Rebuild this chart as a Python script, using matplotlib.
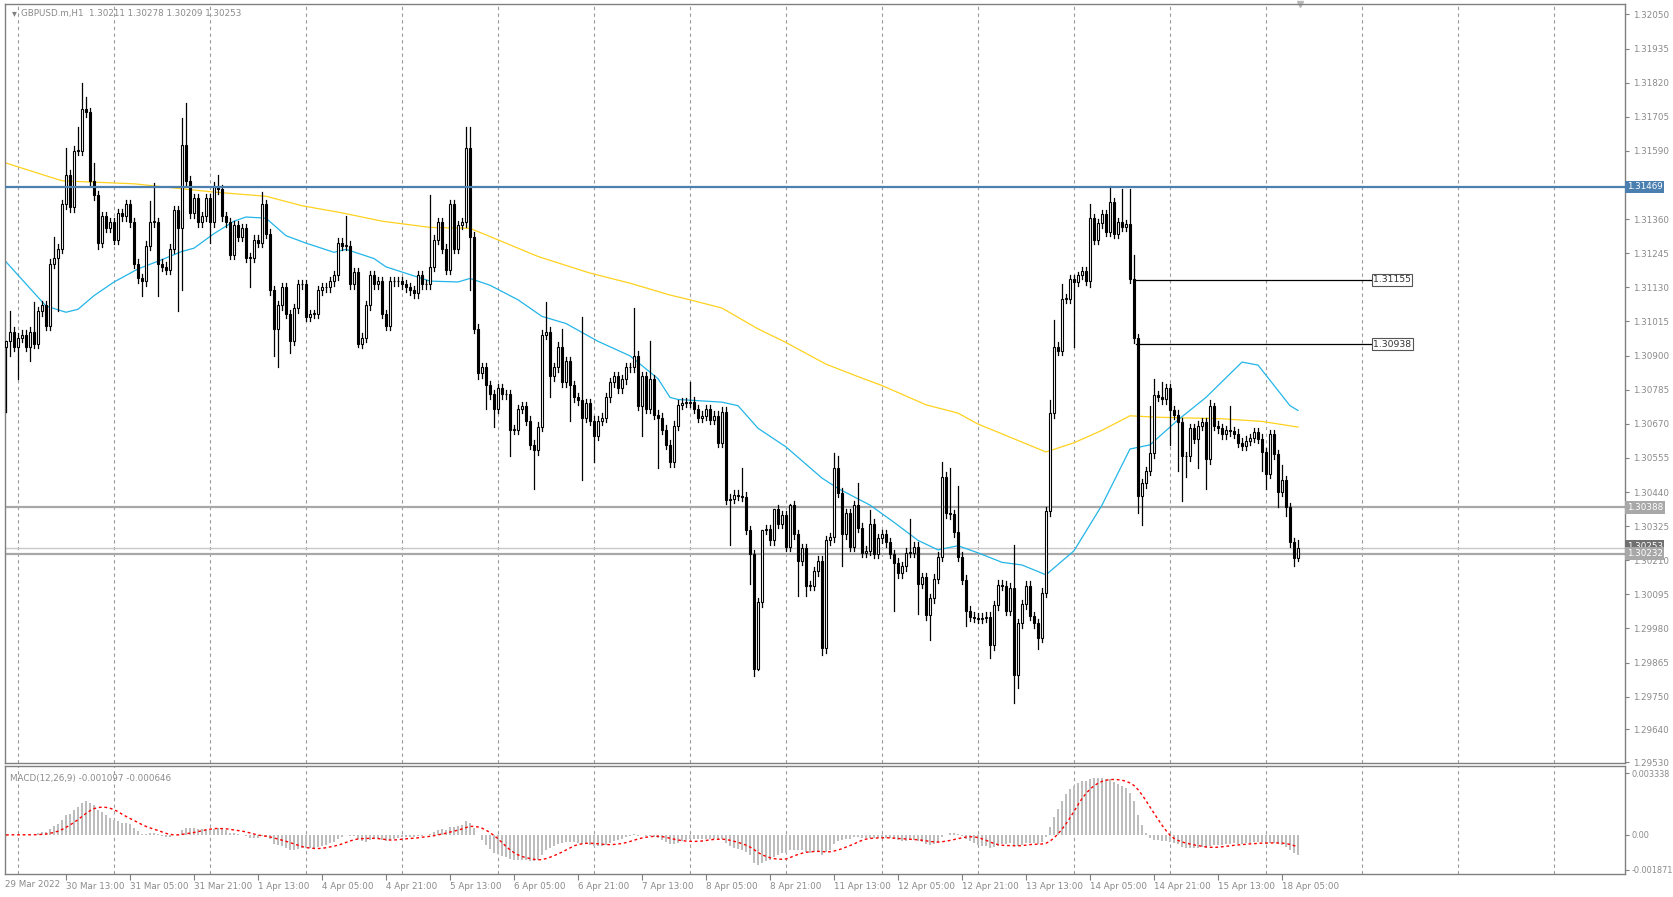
import numpy as np
import matplotlib
matplotlib.use("Agg")
import matplotlib.pyplot as plt
from matplotlib.patches import Rectangle

# ---------------- data ----------------
closes = [
 1.3095,1.3098,1.3093,1.3096,1.3097,1.3093,1.3098,1.3094,1.3105,1.3107,1.3100,1.3121,1.3123,1.3126,1.3141,1.3151,1.3140,1.3159,1.3159,1.3173,
 1.3172,1.3149,1.3144,1.3128,1.3137,1.3133,1.3135,1.3129,1.3138,1.3137,1.3141,1.3135,1.3121,1.3116,1.3115,1.3127,1.3135,1.3135,1.3121,1.3120,
 1.3119,1.3126,1.3139,1.3133,1.3161,1.3149,1.3138,1.3143,1.3135,1.3137,1.3143,1.3135,1.3147,1.3146,1.3137,1.3135,1.3124,1.3134,1.3130,1.3133,
 1.3123,1.3123,1.3129,1.3128,1.3141,1.3131,1.3112,1.3099,1.3107,1.3113,1.3104,1.3095,1.3106,1.3114,1.3114,1.3103,1.3104,1.3104,1.3112,1.3113,
 1.3113,1.3115,1.3117,1.3128,
 1.3127,1.3127,1.3114,1.3118,1.3094,1.3096,1.3107,1.3117,1.3114,1.3115,1.3104,1.3100,1.3115,1.3115,1.3115,1.3114,1.3113,1.3112,1.3111,1.3117,
 1.3114,1.3114,1.3120,1.3129,1.3135,1.3126,1.3119,1.3141,1.3126,1.3134,1.3135,1.3160,1.3130,1.3099,1.3084,1.3086,1.3080,1.3077,1.3072,1.3079,
 1.3077,1.3077,1.3065,1.3065,1.3072,1.3073,1.3068,1.3060,1.3058,1.3066,1.3097,1.3098,1.3083,1.3086,1.3093,1.3081,1.3088,1.3080,1.3076,1.3075,
 1.3069,1.3074,1.3068,1.3063,1.3068,1.3069,1.3076,1.3081,1.3083,1.3079,1.3082,1.3086,1.3086,1.3090,1.3073,1.3083,1.3072,1.3082,1.3070,1.3069,
 1.3065,1.3060,1.3054,
 1.30664,1.30734,1.30741,1.30741,1.30745,1.30720,1.30690,1.30697,1.30720,1.30683,
 1.30697,1.30606,1.30710,1.30413,1.30417,1.30431,1.30427,1.30424,1.30312,1.30231,
 1.29844,1.30068,1.30312,1.30315,1.30277,1.30382,1.30333,1.30361,1.30256,1.30396,
 1.30298,1.30208,1.30250,1.30124,1.30124,1.30173,1.30208,1.29914,1.30277,1.30287,
 1.30522,1.30438,1.30298,1.30368,1.30256,1.30396,1.30319,1.30235,1.30242,1.30333,
 1.30231,1.30284,1.30298,1.30270,1.30231,1.30201,1.30166,1.30190,1.30235,1.30235,
 1.30256,1.30131,1.30152,1.30026,1.30082,1.30148,1.30222,1.30491,1.30368,1.30365,
 1.30305,1.30222,1.30145,1.30040,1.30019,1.30016,1.30012,1.30016,1.30019,1.29924,
 1.30058,1.30127,
 1.30124,1.30040,1.30117,1.29823,1.29998,1.30061,1.30124,1.30022,1.29998,1.29949,
 1.30100,1.30375,1.30706,1.30930,1.30916,1.31092,1.31092,1.31158,1.31148,1.31172,
 1.31185,1.31153,1.31363,1.31290,1.31346,1.31377,1.31318,1.31416,1.31311,1.31349,
 1.31335,1.31343,1.31158,1.30958,1.30427,1.30469,1.30511,1.30571,1.30766,1.30762,
 1.30752,1.30790,1.30715,1.30701,1.30676,1.30561,1.30561,1.30655,1.30620,1.30664,
 1.30676,1.30550,1.30729,1.30664,1.30655,1.30634,1.30648,1.30645,1.30636,1.30606,
 1.30595,1.30613,1.30622,1.30641,1.30620,1.30575,1.30501,1.30634,1.30567,1.30441,
 1.30480,1.30389,1.30270,1.30217,1.30253,
]
first_open = 1.3093
high_override = {0:1.3095,1:1.3105,7:1.3108,12:1.3130,15:1.3160,18:1.3167,19:1.3182,20:1.3177,22:1.3155,
 36:1.3142,37:1.3148,44:1.3170,45:1.3175,53:1.3151,64:1.3145,85:1.3137,106:1.3144,115:1.3167,116:1.3167,
 135:1.3108,139:1.3099,144:1.3103,157:1.3106,161:1.3095,171:1.3081,184:1.3052,189:1.3031,192:1.3038,
 196:1.3040,207:1.3057,208:1.3056,213:1.3047,216:1.3038,226:1.3035,234:1.3054,236:1.3052,238:1.3046,
 252:1.3026,261:1.3075,262:1.3102,264:1.3114,268:1.3118,271:1.3141,276:1.3147,279:1.3146,281:1.3146,
 282:1.3124,286:1.3073,287:1.3082,289:1.3081,301:1.3075,302:1.3074,306:1.3073,319:1.3053,323:1.30278}
low_override = {0:1.3071,1:1.3090,3:1.3082,6:1.3088,13:1.3105,23:1.3126,34:1.3110,38:1.3110,43:1.3105,
 44:1.3112,51:1.3128,61:1.3113,67:1.3090,68:1.3086,71:1.3091,88:1.3093,116:1.3112,118:1.3082,120:1.3072,
 122:1.3066,126:1.3056,132:1.3045,136:1.3076,141:1.3068,144:1.3048,147:1.3054,159:1.3063,163:1.3052,
 181:1.3026,186:1.3013,187:1.2982,188:1.2984,198:1.3009,200:1.3009,204:1.2989,209:1.3019,222:1.3004,
 228:1.3003,230:1.3001,231:1.2994,240:1.2999,246:1.2988,252:1.2973,253:1.2978,258:1.2991,267:1.3093,
 271:1.3113,283:1.3037,284:1.3033,291:1.3060,293:1.3051,294:1.3041,295:1.3049,298:1.3052,300:1.3045,
 314:1.3051,315:1.3045,318:1.3039,320:1.3036,322:1.3019,323:1.30209}

ma200_bars = [0,14,32,52,65,74,84,94,106,116,123,133,146,156,166,171,179,188,195,205,213,219,230,238,243,249,260,267,274,281,288,304,314,323]
ma200_vals = [1.31549,1.31489,1.31479,1.31451,1.31437,1.31405,1.31381,1.31353,1.31332,1.31329,1.31290,1.31234,1.31178,1.31144,1.31104,
 1.31088,1.31060,1.30990,1.30944,1.30871,1.30829,1.30799,1.30734,1.30706,1.30669,1.30636,1.30575,1.30606,1.30648,1.30697,1.30692,
 1.30687,1.30678,1.30659]
ma50_bars = [0,10,15,18,22,27,33,38,44,47,52,57,60,65,70,75,82,85,92,95,106,113,116,121,128,134,140,148,156,163,166,
 168,179,183,188,195,204,208,216,222,228,233,238,243,249,254,260,267,274,281,286,293,300,309,313,321,323]
ma50_vals = [1.31216,1.31067,1.31046,1.31056,1.31102,1.31148,1.31192,1.31218,1.31251,1.31262,1.31311,1.31353,1.31367,1.31363,
 1.31304,1.31279,1.31248,1.31258,1.31227,1.31199,1.31151,1.31148,1.31160,1.31137,1.31088,1.31032,1.31008,1.30948,1.30899,
 1.30822,1.30759,1.30752,1.30743,1.30731,1.30655,1.30592,1.30487,1.30452,1.30396,1.30338,1.30277,1.30245,1.30259,1.30235,
 1.30203,1.30194,1.30161,1.30242,1.30396,1.30585,1.30599,1.30683,1.30759,1.30878,1.30868,1.30731,1.30715]

xtick_labels = ["30 Mar 13:00","31 Mar 05:00","31 Mar 21:00","1 Apr 13:00","4 Apr 05:00","4 Apr 21:00","5 Apr 13:00",
 "6 Apr 05:00","6 Apr 21:00","7 Apr 13:00","8 Apr 05:00","8 Apr 21:00","11 Apr 13:00","12 Apr 05:00","12 Apr 21:00",
 "13 Apr 13:00","14 Apr 05:00","14 Apr 21:00","15 Apr 13:00","18 Apr 05:00"]
price_ticks = [1.32050,1.31935,1.31820,1.31705,1.31590,1.31360,1.31245,1.31130,1.31015,1.30900,1.30785,1.30670,
 1.30555,1.30440,1.30325,1.30210,1.30095,1.29980,1.29865,1.29750,1.29640,1.29530]
hlines = {"resist": 1.31469, "support": 1.30388, "bid": 1.30253, "level": 1.30232}
seg_levels = [1.31155, 1.30938]
seg_start_bar = 283

# ---------------- figure ----------------
W, H = 1673, 897
fig = plt.figure(figsize=(W/100, H/100), dpi=100)
GRAY = "#808080"
TXT = "#8a8a8a"
FS = 6.3
def box(l, t, r, b):
    return [l/W, 1-b/H, (r-l)/W, (b-t)/H]
ax = fig.add_axes(box(5, 4, 1625, 763))
axm = fig.add_axes(box(5, 766, 1625, 874))

n = len(closes)
x = np.arange(n)
opens = [first_open] + closes[:-1]
xl = (-0.25, (1625-6)/4)

for i in range(n):
    o, c = opens[i], closes[i]
    hi = high_override.get(i, max(o, c) + 0.00015)
    lo = low_override.get(i, min(o, c) - 0.00015)
    hi = max(hi, o, c); lo = min(lo, o, c)
    ax.plot([i, i], [lo, hi], color="black", lw=0.9, zorder=3)
    bot = min(o, c); h = max(abs(c-o), 0.00002)
    ax.add_patch(Rectangle((i-0.33, bot), 0.66, h, facecolor="white" if c >= o else "black",
                           edgecolor="black", lw=0.8, zorder=4))

ax.plot(ma200_bars, ma200_vals, color="#FFD21F", lw=0.9, zorder=2)
ax.plot(ma50_bars, ma50_vals, color="#22B5E8", lw=0.9, zorder=2)

ax.axhline(hlines["resist"], color="#4A7FB0", lw=1.6, zorder=5)
ax.axhline(hlines["support"], color="#A8A8A8", lw=1.6, zorder=1)
ax.axhline(hlines["bid"], color="#C8C8C8", lw=1.0, zorder=1)
ax.axhline(hlines["level"], color="#A8A8A8", lw=1.6, zorder=1)
seg_end = (1372-6)/4
for lv in seg_levels:
    ax.plot([seg_start_bar-0.5, seg_end], [lv, lv], color="black", lw=0.9, zorder=5)
    ax.text(seg_end+0.3, lv, f"{lv:.5f}", fontsize=FS+0.4, color="#333333", va="center", ha="left",
            bbox=dict(boxstyle="square,pad=0.15", fc="white", ec="#555555", lw=0.8), zorder=6)

grid_bars = np.arange(3, 405, 24)
for a in (ax, axm):
    for g in grid_bars:
        a.axvline(g, color="#9a9a9a", lw=0.8, ls=(0, (3, 3)), zorder=0)
    a.set_xlim(*xl)
    for s in a.spines.values():
        s.set_color(GRAY); s.set_linewidth(1.0)
    a.yaxis.tick_right()
    a.tick_params(axis="y", colors=GRAY, labelcolor=TXT, labelsize=FS, length=3, pad=3)
axm.tick_params(axis="y", labelsize=5.9, pad=2)

ytop = 1.32050 + 10.4/29696
ybot = 1.29530 - 1.0/29696
ax.set_ylim(ybot, ytop)
ax.set_yticks(price_ticks)
ax.set_yticklabels([f"{v:.5f}" for v in price_ticks])
ax.set_xticks([])

def rlabel(a, y, s, fc, tc="white"):
    a.text(1.001, y, s, transform=a.get_yaxis_transform(), fontsize=FS, color=tc, va="center", ha="left",
           bbox=dict(boxstyle="square,pad=0.2", fc=fc, ec="none"), zorder=10, clip_on=False)
rlabel(ax, hlines["resist"], "1.31469", "#4A7FB0")
rlabel(ax, hlines["support"], "1.30388", "#A8A8A8")
rlabel(ax, hlines["bid"]+0.00004, "1.30253", "#707070")
rlabel(ax, hlines["level"], "1.30232", "#A8A8A8")

ax.text(0.004, 0.994, "\u25be", transform=ax.transAxes, fontsize=7, color=GRAY, va="top")
ax.text(0.010, 0.994, "GBPUSD.m,H1  1.30211 1.30278 1.30209 1.30253", transform=ax.transAxes,
        fontsize=FS, color=TXT, va="top")
ax.plot([(1300-6)/4], [ytop], marker="v", color="#bbbbbb", ms=5, clip_on=False)

# MACD
c = np.array(closes)
def ema(v, p):
    k = 2/(p+1); out = np.empty_like(v); out[0] = v[0]
    for i in range(1, len(v)): out[i] = v[i]*k + out[i-1]*(1-k)
    return out
macd = ema(c, 12) - ema(c, 26)
sig = np.array([macd[max(0, i-8):i+1].mean() for i in range(n)])
axm.bar(x, macd, width=0.62, color="#BDBDBD", zorder=2)
axm.plot(x, sig, color="#FF0000", lw=1.0, ls=(0, (2, 2)), zorder=3)
axm.set_ylim(-0.0021, 0.003715)
axm.set_yticks([0.003338, 0.0, -0.001871])
axm.set_yticklabels(["0.003338", "0.00", "-0.001871"])
axm.text(0.003, 0.93, "MACD(12,26,9) -0.001097 -0.000646", transform=axm.transAxes, fontsize=FS,
         color=TXT, va="top")
tick_bars = [15 + 16*k for k in range(len(xtick_labels))]
axm.set_xticks(tick_bars)
axm.set_xticklabels(xtick_labels, ha="left")
axm.tick_params(axis="x", colors=GRAY, labelcolor=TXT, labelsize=FS, length=4, pad=2)
axm.text(-0.25, -0.06, "29 Mar 2022", transform=axm.get_xaxis_transform(), fontsize=FS, color=TXT,
         va="top", ha="left")

fig.savefig("out.png", dpi=100)
